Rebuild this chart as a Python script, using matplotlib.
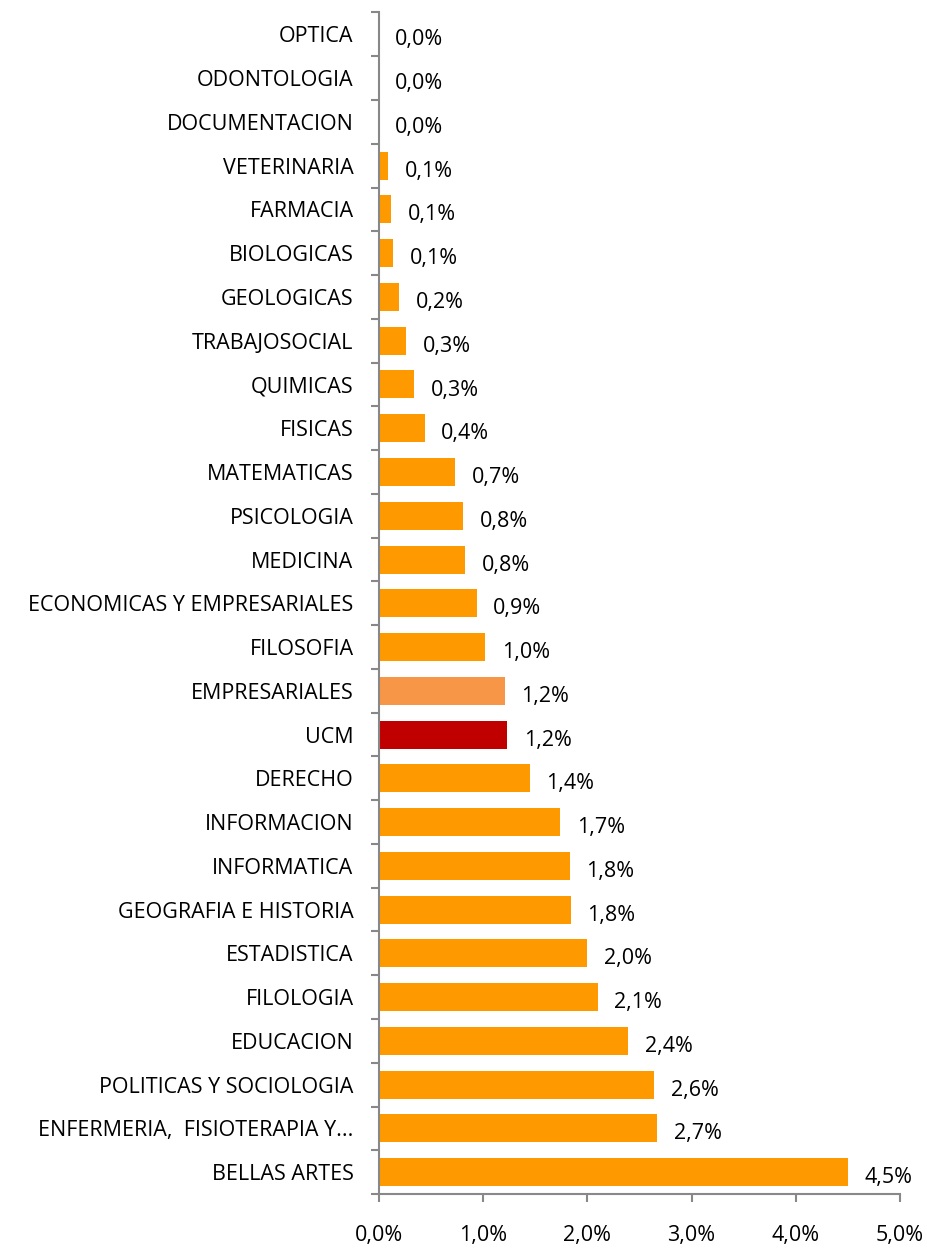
import matplotlib.pyplot as plt
import numpy as np

# categories from bottom to top
categories = ['BELLAS ARTES', 'ENFERMERIA,  FISIOTERAPIA Y...', 'POLITICAS Y SOCIOLOGIA',
              'EDUCACION', 'FILOLOGIA', 'ESTADISTICA', 'GEOGRAFIA E HISTORIA',
              'INFORMATICA', 'INFORMACION', 'DERECHO', 'UCM', 'EMPRESARIALES',
              'FILOSOFIA', 'ECONOMICAS Y EMPRESARIALES', 'MEDICINA', 'PSICOLOGIA',
              'MATEMATICAS', 'FISICAS', 'QUIMICAS', 'TRABAJOSOCIAL', 'GEOLOGICAS',
              'BIOLOGICAS', 'FARMACIA', 'VETERINARIA', 'DOCUMENTACION',
              'ODONTOLOGIA', 'OPTICA']
values = [4.50, 2.67, 2.64, 2.39, 2.10, 2.00, 1.84, 1.83, 1.74, 1.45, 1.23, 1.21,
          1.02, 0.94, 0.83, 0.81, 0.73, 0.44, 0.34, 0.26, 0.20, 0.14, 0.12, 0.09,
          0.0, 0.0, 0.0]
highlight = {'UCM': '#C00000', 'EMPRESARIALES': '#F79646'}
base_color = '#FF9900'

plt.rcParams['font.family'] = ['Open Sans', 'DejaVu Sans']
fs = 15.5

fig = plt.figure(figsize=(9.28, 12.49), dpi=100)
ax = fig.add_axes([0.408, 0.044, 0.562, 0.946])

y = np.arange(len(categories))
colors = [highlight.get(c, base_color) for c in categories]
ax.barh(y, values, height=0.64, color=colors)

for yi, v in zip(y, values):
    ax.annotate(('%.1f%%' % v).replace('.', ','), (v, yi), xytext=(12, -4),
                textcoords='offset points', ha='left', va='center', fontsize=fs,
                color='black')

ax.set_xlim(0, 5)
ax.set_ylim(-0.5, len(categories) - 0.5)
ax.set_xticks(np.arange(0, 5.01, 1))
ax.set_xticklabels([('%.1f%%' % t).replace('.', ',') for t in np.arange(0, 5.01, 1)],
                   fontsize=fs, color='black')
ax.set_yticks(y)
ax.set_yticklabels(categories, fontsize=fs, color='black')
ax.set_yticks(np.arange(-0.5, len(categories), 1), minor=True)
ax.tick_params(axis='y', which='major', length=0, pad=18)
ax.tick_params(axis='y', which='minor', length=6, color='#888888', width=1.5)
ax.tick_params(axis='x', length=6, color='#888888', width=1.5, pad=16)

for s in ['top', 'right']:
    ax.spines[s].set_visible(False)
for s in ['left', 'bottom']:
    ax.spines[s].set_color('#888888')
    ax.spines[s].set_linewidth(1.5)

fig.savefig('out.png', dpi=100)
